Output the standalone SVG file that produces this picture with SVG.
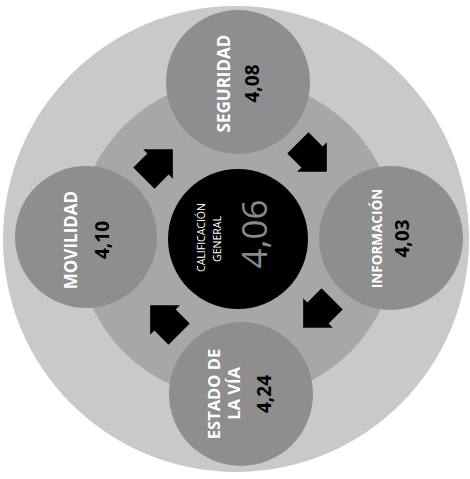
<svg xmlns="http://www.w3.org/2000/svg" width="470" height="479" viewBox="0 0 470 479">
  <defs>
    <style>
      .outer { fill: #c9c9c9; }
      .ring { fill: #a7a7a7; }
      .sat { fill: #8e8e8e; }
      .core { fill: #000000; }
      .lbl { font-family: "Open Sans", "Noto Sans", sans-serif; font-weight: bold; fill: #ffffff; text-anchor: middle; }
      .num { font-family: "Open Sans", "Noto Sans", sans-serif; font-weight: bold; fill: #000000; text-anchor: middle; font-size: 19px; }
      .clbl { font-family: "Open Sans", "Noto Sans", sans-serif; fill: #ffffff; text-anchor: middle; font-size: 10.5px; }
      .cnum { font-family: "Open Sans", "Noto Sans", sans-serif; fill: #8a8a8a; text-anchor: middle; font-size: 35px; }
      .arrow { fill: #000000; }
    </style>
    <path id="blockArrow" d="M-20,-15 L0,-15 L0,-21 L21,0 L0,21 L0,15 L-20,15 Z"/>
  </defs>
  <rect x="0" y="0" width="470" height="479" fill="#ffffff"/>
  <g id="background">
    <circle class="outer" cx="236" cy="239" r="233"/>
    <circle class="ring" cx="237" cy="239" r="160"/>
  </g>
  <g id="connectors">
    <use href="#blockArrow" class="arrow" transform="translate(158,164) rotate(-45)"/>
    <use href="#blockArrow" class="arrow" transform="translate(312,157) rotate(45)"/>
    <use href="#blockArrow" class="arrow" transform="translate(318,313) rotate(135)"/>
    <use href="#blockArrow" class="arrow" transform="translate(165,320) rotate(225)"/>
  </g>
  <g id="seguridad">
    <circle class="sat" cx="238" cy="82" r="72"/>
    <text class="lbl" font-size="17" x="230" y="83.5" transform="rotate(-90 230 83.5)">SEGURIDAD</text>
    <text class="num" x="259" y="83.5" transform="rotate(-90 259 83.5)">4,08</text>
  </g>
  <g id="movilidad">
    <circle class="sat" cx="86" cy="237" r="71"/>
    <text class="lbl" font-size="17" x="77" y="240" transform="rotate(-90 77 240)">MOVILIDAD</text>
    <text class="num" x="109" y="240" transform="rotate(-90 109 240)">4,10</text>
  </g>
  <g id="informacion">
    <circle class="sat" cx="391" cy="238" r="72"/>
    <text class="lbl" font-size="13.5" x="382" y="238.5" transform="rotate(-90 382 238.5)">INFORMACIÓN</text>
    <text class="num" x="409" y="238.5" transform="rotate(-90 409 238.5)">4,03</text>
  </g>
  <g id="estado">
    <circle class="sat" cx="241" cy="394" r="72"/>
    <text class="lbl" font-size="16.5" x="220" y="394" transform="rotate(-90 220 394)">ESTADO DE</text>
    <text class="lbl" font-size="16.5" x="240" y="393.5" transform="rotate(-90 240 393.5)">LA VÍA</text>
    <text class="num" x="271" y="394" transform="rotate(-90 271 394)">4,24</text>
  </g>
  <g id="calificacion">
    <circle class="core" cx="238" cy="239" r="70"/>
    <text class="clbl" x="205" y="237.5" transform="rotate(-90 205 237.5)">CALIFICACIÓN</text>
    <text class="clbl" x="221" y="239" transform="rotate(-90 221 239)">GENERAL</text>
    <text class="cnum" x="267" y="234" transform="rotate(-90 267 234)">4,06</text>
  </g>
</svg>
